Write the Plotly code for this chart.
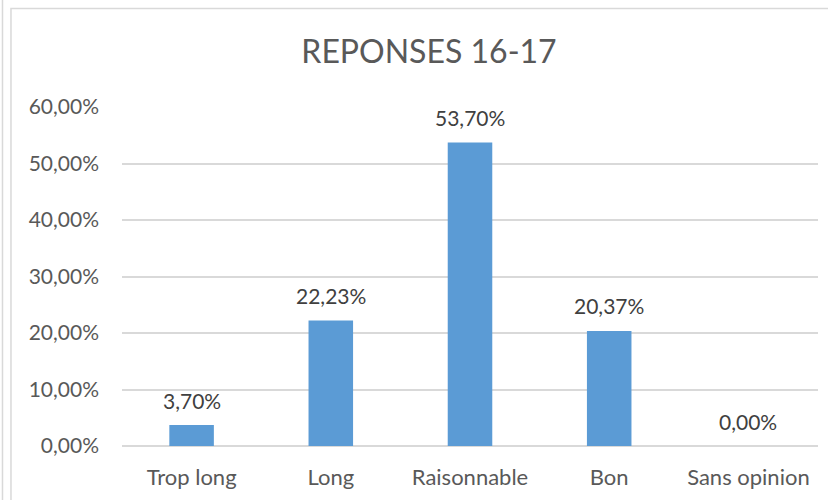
import plotly.graph_objects as go

categories = ["Trop long", "Long", "Raisonnable", "Bon", "Sans opinion"]
shares = [0.0370, 0.2223, 0.5370, 0.2037, 0.0000]
y_ticks = [0, 0.1, 0.2, 0.3, 0.4, 0.5, 0.6]

text_color = "#595959"
label_color = "#404040"
bar_color = "#5B9BD5"
grid_color = "#D9D9D9"
font_family = "Lato, 'Open Sans', sans-serif"

fig = go.Figure()
fig.add_trace(
    go.Bar(
        x=categories,
        y=shares,
        marker={"color": bar_color, "line": {"width": 0}},
        hovertemplate="%{x}: %{y:.2%}<extra></extra>",
    )
)

# value labels sit ~25px above each bar, like Excel
for cat, val in zip(categories, shares):
    fig.add_annotation(
        x=cat,
        y=val,
        text=f"{val * 100:.2f}%".replace(".", ","),
        showarrow=False,
        yanchor="middle",
        yshift=25,
        font={"size": 21, "color": label_color, "family": font_family},
    )

# chart frame, as in the cropped spreadsheet screenshot
fig.add_shape(type="rect", xref="paper", yref="paper", x0=-0.1595, x1=1.05, y0=-0.3, y1=1.2906,
              line={"color": "#D9D9D9", "width": 1.5}, fillcolor="rgba(0,0,0,0)", layer="below")
fig.add_shape(type="line", xref="paper", yref="paper", x0=-0.1717, x1=-0.1717, y0=-0.3, y1=1.35,
              line={"color": "#D9D9D9", "width": 1.5})

fig.update_layout(
    width=828,
    height=500,
    paper_bgcolor="white",
    plot_bgcolor="white",
    separators=", ",
    showlegend=False,
    bargap=0.68,
    margin=dict(l=122, r=10, t=107, b=54),
    font={"family": font_family, "color": text_color, "size": 21},
    title={
        "text": "REPONSES 16-17",
        "x": 429 / 828,
        "xanchor": "center",
        "y": 1 - 52 / 500,
        "yanchor": "middle",
        "font": {"size": 32, "color": text_color, "family": font_family},
    },
)
fig.update_xaxes(showline=False, showgrid=False, ticks="", ticklabelstandoff=16,
                 tickfont={"size": 22, "color": text_color})
fig.update_yaxes(
    range=[0, 0.6],
    tickvals=y_ticks,
    tickformat=".2%",
    showgrid=True,
    gridcolor=grid_color,
    gridwidth=1.5,
    zeroline=True,
    zerolinecolor=grid_color,
    zerolinewidth=1.5,
    showline=False,
    ticks="",
    ticklabelstandoff=22,
    tickfont={"size": 21, "color": text_color},
)

fig.write_html("out.html", config={"displayModeBar": False},
               post_script="document.body.style.margin='0px';")
